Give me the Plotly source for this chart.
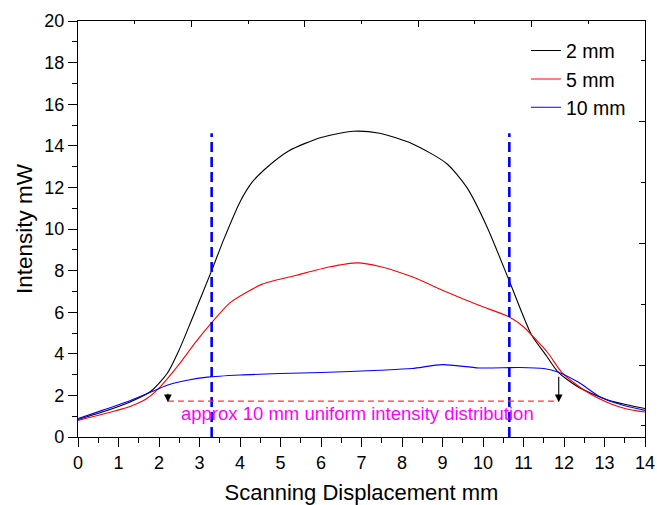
import plotly.graph_objects as go

FONT = "Liberation Sans, Arial, sans-serif"

# ---- data ----
x_2mm = [0, 0.6, 1.3, 1.8, 2.2, 2.5, 2.8, 3.3, 3.6, 4.0, 4.3, 4.6, 5.2, 6.0, 6.8, 7.45,
         8.25, 9.1, 9.6, 10.1, 10.65, 11.2, 11.55, 11.85, 12.35, 13.1, 13.55, 14]
y_2mm = [0.84, 1.2, 1.7, 2.2, 3.05, 4.2, 5.6, 8.0, 9.5, 11.3, 12.25, 12.85, 13.75, 14.4, 14.7, 14.6,
         14.1, 13.15, 12.0, 10.1, 7.5, 4.9, 3.95, 3.13, 2.4, 1.76, 1.55, 1.37]

x_5mm = [0, 0.6, 1.3, 1.7, 2.0, 2.5, 2.9, 3.3, 3.75, 4.2, 4.55, 5.4, 6.2, 6.9, 7.45, 8.25, 9.1, 9.9,
         10.65, 11.0, 11.25, 11.6, 11.95, 12.5, 13.15, 13.55, 14]
y_5mm = [0.8, 1.09, 1.48, 1.85, 2.35, 3.5, 4.55, 5.5, 6.45, 7.0, 7.35, 7.78, 8.17, 8.37, 8.2, 7.7, 6.97, 6.33,
         5.77, 5.3, 4.8, 4.05, 3.1, 2.25, 1.6, 1.35, 1.2]

x_10mm = [0, 0.6, 1.3, 1.8, 2.2, 2.7, 3.2, 4.0, 5.0, 6.0, 7.45, 8.25, 9.0, 9.9, 10.9, 11.5, 11.85,
          12.35, 12.9, 13.5, 14]
y_10mm = [0.88, 1.28, 1.76, 2.16, 2.49, 2.73, 2.88, 2.98, 3.05, 3.1, 3.21, 3.29, 3.48, 3.32, 3.34, 3.29,
          3.13, 2.64, 1.92, 1.5, 1.28]

series_names = ["2 mm", "5 mm", "10 mm"]
series_colors = ["#000000", "#FF0000", "#0000FF"]

boundary_x = [3.3, 10.65]          # vertical dashed markers
boundary_y = [0, 14.6]
uniform_x = [2.22, 11.87]          # horizontal dashed span
uniform_y = 1.72
arrow_tail_y = [2.15, 2.97]
label_text = "approx 10 mm uniform intensity distribution"
label_pos = (6.91, 1.12)

x_ticks = list(range(0, 15))
y_ticks = list(range(0, 21, 2))

fig = go.Figure()

for xs, ys, name, col in zip([x_2mm, x_5mm, x_10mm], [y_2mm, y_5mm, y_10mm], series_names, series_colors):
    fig.add_trace(go.Scatter(x=xs, y=ys, mode="lines", name=name,
                             line=dict(color=col, width=1.1, shape="spline", smoothing=0.7)))

for bx in boundary_x:
    fig.add_trace(go.Scatter(x=[bx, bx], y=boundary_y, mode="lines", showlegend=False,
                             line=dict(color="#0000FF", width=2.6, dash="10px,5px"), hoverinfo="skip"))

fig.add_trace(go.Scatter(x=uniform_x, y=[uniform_y, uniform_y], mode="lines", showlegend=False,
                         line=dict(color="#FF3333", width=1.3, dash="6px,4px"), hoverinfo="skip"))

# dummy trace for the top/right tick axes
fig.add_trace(go.Scatter(x=[0, 14], y=[-5, -5], xaxis="x2", yaxis="y2", mode="lines",
                         showlegend=False, hoverinfo="skip", line=dict(width=0)))

for ax_x, tail in zip(uniform_x, arrow_tail_y):
    fig.add_annotation(x=ax_x, y=uniform_y - 0.05, ax=ax_x, ay=tail, xref="x", yref="y",
                       axref="x", ayref="y", text="", showarrow=True, arrowhead=2,
                       arrowsize=1.4, arrowwidth=1.1, arrowcolor="#000000", standoff=0)

fig.add_annotation(x=label_pos[0], y=label_pos[1], xref="x", yref="y", text=label_text,
                   showarrow=False, font=dict(family=FONT, size=18.5, color="#FF00FF"))

axis_line = dict(showline=True, linecolor="#000000", linewidth=1.3, showgrid=False, zeroline=False,
                 automargin=False)

fig.update_layout(
    width=657, height=505,
    margin=dict(l=78, r=12, t=21, b=68),
    paper_bgcolor="white", plot_bgcolor="white",
    font=dict(family=FONT, color="#000000"),
    xaxis=dict(range=[0, 14], tickvals=x_ticks, ticks="outside", ticklen=9, tickwidth=1.2,
               tickcolor="#000000", tickfont=dict(size=18), mirror=True,
               minor=dict(dtick=0.5, ticklen=5, tickwidth=1.2, tickcolor="#000000", ticks="outside"),
               title=dict(text="Scanning Displacement mm", font=dict(size=22), standoff=16),
               **axis_line),
    yaxis=dict(range=[0, 20], tickvals=y_ticks, ticks="outside", ticklen=9, tickwidth=1.2,
               tickcolor="#000000", tickfont=dict(size=18), mirror=True,
               minor=dict(dtick=1, ticklen=5, tickwidth=1.2, tickcolor="#000000", ticks="outside"),
               title=dict(text="Intensity mW", font=dict(size=22.5), standoff=5),
               **axis_line),
    xaxis2=dict(overlaying="x", side="top", range=[0, 14], tick0=0, dtick=2.8, ticks="inside",
                ticklen=6, tickwidth=1.2, tickcolor="#000000", showticklabels=False,
                minor=dict(tick0=0, dtick=1.4, ticklen=3, tickwidth=1.2, tickcolor="#000000", ticks="inside"),
                **axis_line),
    yaxis2=dict(overlaying="y", side="right", range=[0, 20], tick0=3.44, dtick=5.86, ticks="inside",
                ticklen=6, tickwidth=1.2, tickcolor="#000000", showticklabels=False,
                minor=dict(tick0=0.53, dtick=2.93, ticklen=4, tickwidth=1.2, tickcolor="#000000", ticks="inside"),
                **axis_line),
    legend=dict(x=0.79, y=0.975, xanchor="left", yanchor="top", bgcolor="rgba(0,0,0,0)",
                font=dict(size=19.5), tracegroupgap=0),
    showlegend=True,
)

fig.write_html("out.html", config={"displayModeBar": False},
               post_script="document.body.style.margin='0';document.body.style.overflow='hidden';")
